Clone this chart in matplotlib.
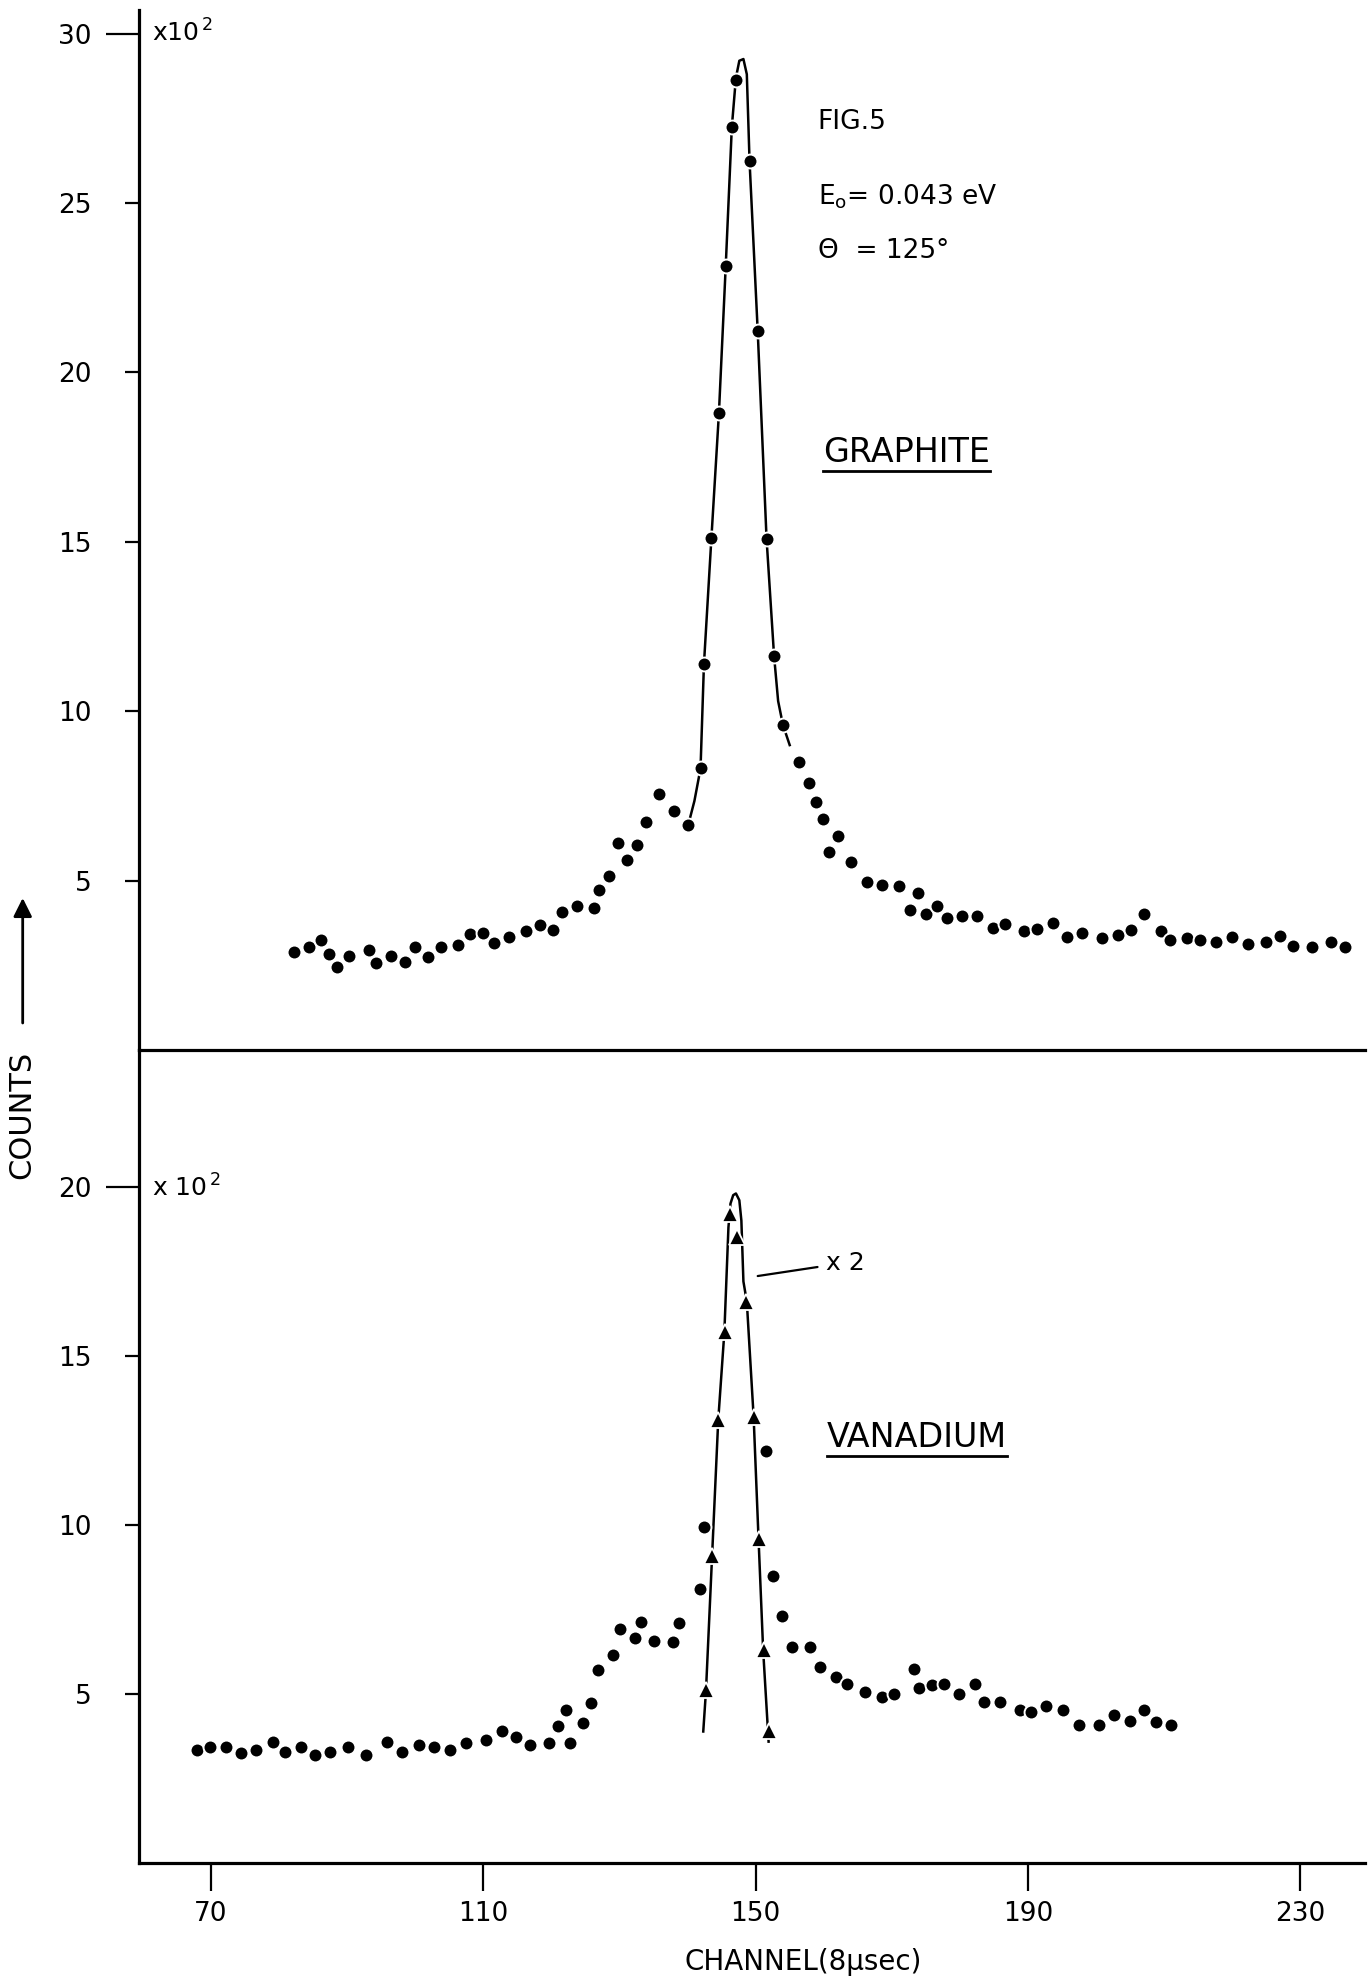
import matplotlib
matplotlib.use("Agg")
import matplotlib.pyplot as plt
from matplotlib.lines import Line2D
from matplotlib.transforms import IdentityTransform

plt.rcParams['font.family'] = ['DejaVu Sans']
plt.rcParams['mathtext.fontset'] = 'dejavusans'

# counts are in units of 10^2, x in channels (8 usec)
graphite_ch = [82.2, 84.4, 86.2, 87.3, 88.5, 90.2, 93.2, 94.2, 96.4, 98.5,
               100.0, 101.8, 103.7, 106.2, 108.1, 110.0, 111.6, 113.7, 116.2, 118.3,
               120.3, 121.5, 123.8, 126.2, 127.0, 128.5, 129.8, 131.1, 132.6, 133.9,
               135.8, 138.0, 140.1, 141.9, 142.4, 143.5, 144.6, 145.6, 146.5, 147.1,
               149.1, 150.3, 151.6, 152.7, 154.0, 156.3, 157.8, 158.8, 159.9, 160.7,
               162.1, 164.0, 166.4, 168.6, 171.0, 172.6, 173.8, 175.0, 176.7, 178.1,
               180.3, 182.5, 184.9, 186.7, 189.4, 191.4, 193.7, 195.7, 198.0, 200.9,
               203.2, 205.2, 207.1, 209.5, 210.9, 213.4, 215.3, 217.6, 220.0, 222.4,
               224.9, 227.1, 228.9, 231.8, 234.5, 236.6]
graphite_counts = [2.88, 3.05, 3.25, 2.83, 2.46, 2.78, 2.96, 2.56, 2.78, 2.59,
                   3.03, 2.74, 3.04, 3.09, 3.43, 3.44, 3.17, 3.35, 3.52, 3.68,
                   3.53, 4.08, 4.26, 4.19, 4.71, 5.14, 6.11, 5.61, 6.04, 6.72,
                   7.55, 7.04, 6.65, 8.31, 11.38, 15.12, 18.79, 23.13, 27.25, 28.63,
                   26.24, 21.22, 15.09, 11.64, 9.59, 8.50, 7.88, 7.33, 6.82, 5.83,
                   6.33, 5.54, 4.96, 4.88, 4.83, 4.14, 4.63, 4.01, 4.24, 3.91,
                   3.97, 3.97, 3.61, 3.71, 3.52, 3.57, 3.75, 3.33, 3.45, 3.32,
                   3.40, 3.54, 4.00, 3.52, 3.26, 3.31, 3.26, 3.19, 3.35, 3.13,
                   3.18, 3.37, 3.07, 3.04, 3.20, 3.05]
graphite_fit_ch = [140.1, 141.0, 141.9, 142.4, 143.5, 144.6, 145.6, 146.5, 147.1,
                   147.6, 148.2, 148.7, 149.1, 150.3, 151.6, 152.7, 153.3, 154.0, 155.0]
graphite_fit = [6.65, 7.35, 8.31, 11.38, 15.12, 18.79, 23.13, 27.25, 28.7,
                29.2, 29.25, 28.8, 26.24, 21.22, 15.09, 11.64, 10.3, 9.6, 9.0]

vanadium_ch = [68.0, 69.9, 72.2, 74.4, 76.6, 79.1, 80.9, 83.2, 85.3, 87.5,
               90.1, 92.8, 95.9, 98.1, 100.5, 102.8, 105.1, 107.5, 110.4, 112.8,
               114.8, 116.9, 119.6, 120.9, 122.1, 122.7, 124.7, 125.8, 126.9, 129.0,
               130.1, 132.2, 133.1, 135.1, 137.8, 138.7, 141.8, 142.4, 151.5, 152.6,
               153.8, 155.4, 158.0, 159.5, 161.8, 163.4, 166.0, 168.5, 170.3, 173.3,
               174.0, 175.9, 177.7, 179.8, 182.2, 183.5, 185.9, 188.9, 190.4, 192.6,
               195.2, 197.5, 200.4, 202.7, 205.0, 207.1, 208.8, 211.0]
vanadium_counts = [3.35, 3.45, 3.45, 3.25, 3.35, 3.6, 3.3, 3.45, 3.2, 3.3,
                   3.45, 3.2, 3.6, 3.3, 3.5, 3.45, 3.35, 3.55, 3.65, 3.9,
                   3.75, 3.5, 3.55, 4.07, 4.54, 3.55, 4.16, 4.73, 5.72, 6.17,
                   6.93, 6.65, 7.13, 6.56, 6.54, 7.11, 8.11, 9.95, 12.2, 8.5,
                   7.3, 6.4, 6.4, 5.8, 5.5, 5.3, 5.07, 4.92, 5.0, 5.74,
                   5.18, 5.26, 5.3, 5.0, 5.3, 4.77, 4.77, 4.55, 4.47, 4.66,
                   4.55, 4.1, 4.1, 4.4, 4.2, 4.55, 4.17, 4.1]
vanadium_x2_ch = [142.7, 143.6, 144.5, 145.5, 146.2, 147.3, 148.6, 149.8, 150.5, 151.2, 151.9]
vanadium_x2 = [5.13, 9.09, 13.1, 15.7, 19.2, 18.5, 16.6, 13.2, 9.6, 6.3, 3.9]
vanadium_fit_ch = [142.3, 142.7, 143.6, 144.5, 145.4, 146.0, 146.3, 146.7, 147.1,
                   147.6, 147.9, 148.2, 148.7, 149.7, 150.4, 151.1, 151.9]
vanadium_fit = [3.9, 5.1, 9.1, 13.1, 15.7, 18.8, 19.5, 19.75, 19.8,
                19.6, 19.0, 17.2, 16.6, 13.2, 9.7, 6.3, 3.6]

channel_ticks = [70, 110, 150, 190, 230]
graphite_yticks = [5, 10, 15, 20, 25, 30]
vanadium_yticks = [5, 10, 15, 20]

fig = plt.figure(figsize=(13.69, 19.86), dpi=100)
ax_top = fig.add_axes([0.1015, 0.4713, 0.8955, 0.5237])
ax_bot = fig.add_axes([0.1015, 0.0617, 0.8955, 0.4096])
ax_bot.patch.set_visible(False)
ax_top.set_zorder(2)
ax_top.patch.set_visible(False)

for ax in (ax_top, ax_bot):
    ax.set_xlim(59.4, 239.5)
    ax.spines['top'].set_visible(False)
    ax.spines['right'].set_visible(False)
    ax.spines['left'].set_linewidth(2.3)
    ax.spines['bottom'].set_linewidth(2.3)
    ax.tick_params(axis='y', direction='out', length=10, width=1.6, pad=24, labelsize=19)
ax_top.set_ylim(0, 30.7)
ax_bot.set_ylim(0, 24.04)

ax_top.set_yticks(graphite_yticks)
ax_top.tick_params(axis='x', bottom=False, labelbottom=False)
ax_top.yaxis.get_major_ticks()[-1].tick1line.set_markersize(24)

ax_bot.set_yticks(vanadium_yticks)
ax_bot.yaxis.get_major_ticks()[-1].tick1line.set_markersize(24)
ax_bot.set_xticks(channel_ticks)
ax_bot.tick_params(axis='x', direction='out', length=20, width=1.6, pad=7, labelsize=19)

# graphite
ax_top.plot(graphite_fit_ch, graphite_fit, color='black', lw=1.8)
ax_top.plot(graphite_ch, graphite_counts, 'o', color='black', ms=10,
            mec='white', mew=1.4, clip_on=False)

# vanadium
ax_bot.plot(vanadium_fit_ch, vanadium_fit, color='black', lw=1.8)
ax_bot.plot(vanadium_ch, vanadium_counts, 'o', color='black', ms=10,
            mec='white', mew=1.4)
ax_bot.plot(vanadium_x2_ch, vanadium_x2, '^', color='black', ms=11,
            mec='white', mew=1.3)

# annotations
ax_top.text(61.3, 29.76, r'x10$^{\,2}$', fontsize=18, va='baseline', ha='left')
ax_bot.text(61.3, 19.7, r'x 10$^{\,2}$', fontsize=18, va='baseline', ha='left')

ax_top.text(159.1, 27.4, 'FIG.5', fontsize=19, va='center', ha='left')
ax_top.text(159.1, 25.18, r'E$_{\mathrm{o}}$= 0.043 eV', fontsize=19, va='center', ha='left')
ax_top.text(159.1, 23.58, 'Θ  = 125°', fontsize=19, va='center', ha='left')

t_g = ax_top.text(159.9, 17.64, 'GRAPHITE', fontsize=24, va='center', ha='left')
t_v = ax_bot.text(160.5, 12.6, 'VANADIUM', fontsize=24, va='center', ha='left')

ax_bot.annotate('x 2', xy=(150.3, 17.36), xytext=(160.3, 17.75),
                fontsize=18, va='center', ha='left',
                arrowprops=dict(arrowstyle='-', color='black', lw=1.6,
                                shrinkA=4, shrinkB=0))

fig.text(0.016, 0.4386, 'COUNTS', rotation=90, fontsize=22, ha='center', va='center')
ax_top.annotate('', xy=(22.7, 1986 - 898), xytext=(22.7, 1986 - 1023),
                xycoords='figure pixels', textcoords='figure pixels',
                annotation_clip=False,
                arrowprops=dict(arrowstyle='-|>', color='black', lw=2,
                                mutation_scale=28, shrinkA=0, shrinkB=0))
fig.text(0.587, 0.0121, 'CHANNEL(8μsec)', fontsize=20, ha='center', va='center')

# underline the sample names
fig.canvas.draw()
renderer = fig.canvas.get_renderer()
for t in (t_g, t_v):
    bb = t.get_window_extent(renderer)
    fig.add_artist(Line2D([bb.x0, bb.x1], [bb.y0 - 2, bb.y0 - 2],
                          transform=IdentityTransform(), color='black', lw=2))

fig.savefig('out.png', dpi=100)
